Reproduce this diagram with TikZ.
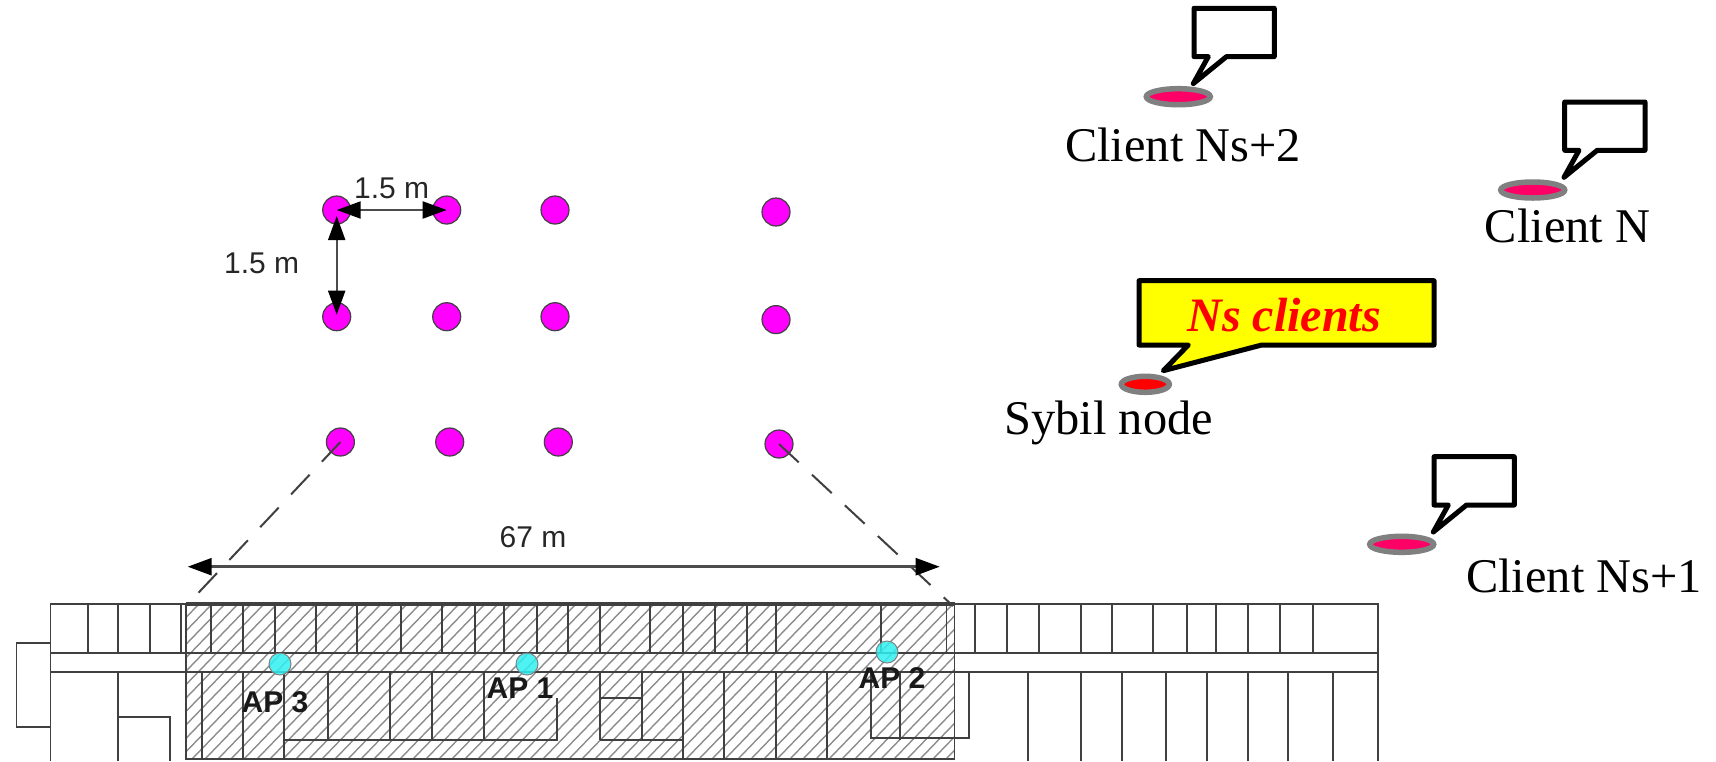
\documentclass[tikz,border=0pt]{standalone}
\usepackage{fontspec}
\usetikzlibrary{arrows.meta,shapes.geometric}
\setmainfont{Liberation Serif}
\newfontfamily\planFont{Liberation Sans}
\definecolor{clientRed}{HTML}{FF0066}
\definecolor{apCyan}{HTML}{30F0F0}
\definecolor{dotMagenta}{HTML}{FF00FF}
\definecolor{noteYellow}{HTML}{FFFF00}
\definecolor{noteRed}{HTML}{FF0000}
\newcommand{\pBubble}[2]{\draw[bubbleLine,shift={(#1,#2)}] (0,0) -- (80.3,0) -- (80.3,48.3) -- (32.5,48.3) -- (-0.7,75.3) -- (14.3,48.3) -- (0,48.3) -- cycle;}
\tikzset{
  wall/.style={black!75, line width=0.9pt},
  hatchLine/.style={black!45, line width=0.7pt},
  gridDot/.style={circle, draw=black!75, fill=dotMagenta, line width=0.6pt, minimum size=14pt, inner sep=0pt},
  apDot/.style={circle, draw=black!50, fill=apCyan, fill opacity=0.85, line width=0.5pt, minimum size=11pt, inner sep=0pt},
  planLabel/.style={font={\planFont\fontsize{15}{18}\selectfont}, text=black!85, inner sep=0pt},
  apLabel/.style={font={\planFont\bfseries\fontsize{15}{18}\selectfont}, text=black!90, inner sep=0pt},
  clientLabel/.style={font={\fontsize{24.2}{28}\selectfont}, anchor=base, inner sep=0pt},
  clientDot/.style={ellipse, draw=gray, fill=clientRed, line width=2.75pt, minimum width=32pt, minimum height=8pt, inner sep=0pt},
  bubbleLine/.style={black, fill=white, line width=2.5pt, line join=round},
  dimArrow/.style={black!70, line width=1pt, {Triangle[length=12pt,width=8.5pt,black]}-{Triangle[length=12pt,width=8.5pt,black]}},
  spanLine/.style={black!75, line width=1pt, dash pattern=on 13.5pt off 9pt}
}

\begin{document}
\begin{tikzpicture}[x=0.5pt,y=-0.5pt]
\useasboundingbox (0,0) rectangle (1716,761);
\begin{scope}
\clip (186,604) rectangle (954.5,759);
\foreach \hx in {36,49,...,954} {
  \draw[hatchLine] (\hx,759) -- (\hx+150,604);
}
\end{scope}
\draw[wall] (50.4,761) -- (50.4,604) -- (1378,604) -- (1378,761);
\draw[wall] (50.4,652.7) -- (1378,652.7);
\draw[wall] (50.4,672) -- (1378,672);
\draw[wall] (50.4,643) -- (16.5,643) -- (16.5,727) -- (50.4,727);
\draw[wall, line width=1.6pt] (186,604) -- (954.5,604);
\draw[wall] (186,604) -- (186,759) -- (954.5,759) -- (954.5,604);
\foreach \wx in {88,118,150,181,211,243,275,316,357,401,442,475,504,537,568,600,650,683,715,747,776,881,946.5,975,1007,1039,1081,1112,1153,1187,1216,1248,1280,1313} {
  \draw[wall] (\wx,604) -- (\wx,652.7);
}
\foreach \wx in {202,243,284,683,724,776,827} {
  \draw[wall] (\wx,672) -- (\wx,759);
}
\foreach \wx in {328,390,432,484,600,642,900} {
  \draw[wall] (\wx,672) -- (\wx,740);
}
\foreach \wx in {118,1028,1081,1122,1166,1207,1248,1288,1333} {
  \draw[wall] (\wx,672) -- (\wx,761);
}
\draw[wall] (118,717) -- (170,717) -- (170,761);
\draw[wall] (557,698) -- (557,740) -- (284,740);
\draw[wall] (600,740) -- (683,740);
\draw[wall] (600,698) -- (642,698);
\draw[wall] (871,672) -- (871,738) -- (969,738) -- (969,672);
\node[apDot] (apThree) at (280,664) {};
\node[apDot] (apOne) at (527,664) {};
\node[apDot] (apTwo) at (887,652) {};
\node[apLabel] (apThreeText) at (275,702) {AP 3};
\node[apLabel] (apOneText) at (520,688) {AP 1};
\node[apLabel] (apTwoText) at (892,678) {AP 2};
\node[gridDot] (dotAa) at (336.7,210) {};
\node[gridDot] (dotAb) at (446.7,210) {};
\node[gridDot] (dotAc) at (555,210) {};
\node[gridDot] (dotAd) at (776,212) {};
\node[gridDot] (dotBa) at (336.7,316.7) {};
\node[gridDot] (dotBb) at (446.7,316.7) {};
\node[gridDot] (dotBc) at (555,316.7) {};
\node[gridDot] (dotBd) at (776,319.6) {};
\node[gridDot] (dotCa) at (340.4,442) {};
\node[gridDot] (dotCb) at (449.7,442) {};
\node[gridDot] (dotCc) at (558.3,442) {};
\node[gridDot] (dotCd) at (779,444) {};
\draw[dimArrow] (dotAa.center) -- (dotAb.center);
\draw[dimArrow, shorten <=3pt, shorten >=1pt] (dotAa.center) -- (dotBa.center);
\node[planLabel] (gapTop) at (391.7,188) {1.5 m};
\node[planLabel] (gapLeft) at (261.7,263) {1.5 m};
\coordinate (spanLeft) at (187.7,566.7);
\coordinate (spanRight) at (939.7,566.7);
\coordinate (hallLeft) at (186,606);
\coordinate (hallRight) at (953,606);
\draw[spanLine] (dotCa.center) -- (hallLeft);
\draw[spanLine] (dotCd.center) -- (hallRight);
\draw[dimArrow, line width=1.3pt] (spanLeft) -- (spanRight);
\node[planLabel] (spanText) at (533,536.7) {67 m};
\pBubble{1194}{8.3}
\pBubble{1564.7}{102}
\pBubble{1434}{456.7}
\draw[bubbleLine, fill=noteYellow] (1139,280.7) -- (1434,280.7) -- (1434,345) -- (1261.7,345) -- (1163.3,370.7) -- (1188.3,345) -- (1139,345) -- cycle;
\node[font={\fontsize{24}{28}\selectfont\bfseries\itshape}, text=noteRed, inner sep=0pt] (sybilText) at (1284.3,315) {Ns clients};
\node[clientDot] (clientTwo) at (1178.3,96.7) {};
\node[clientDot] (clientLast) at (1532.7,190) {};
\node[clientDot] (clientOne) at (1401.7,544.3) {};
\node[clientDot, fill=noteRed, minimum width=24pt] (sybilDot) at (1145.3,384.3) {};
\node[clientLabel] (clientTwoText) at (1183,161) {Client Ns+2};
\node[clientLabel] (clientLastText) at (1567.5,242) {Client N};
\node[clientLabel] (clientOneText) at (1584,592.7) {Client Ns+1};
\node[clientLabel] (sybilName) at (1108.7,434) {Sybil node};
\end{tikzpicture}
\end{document}
